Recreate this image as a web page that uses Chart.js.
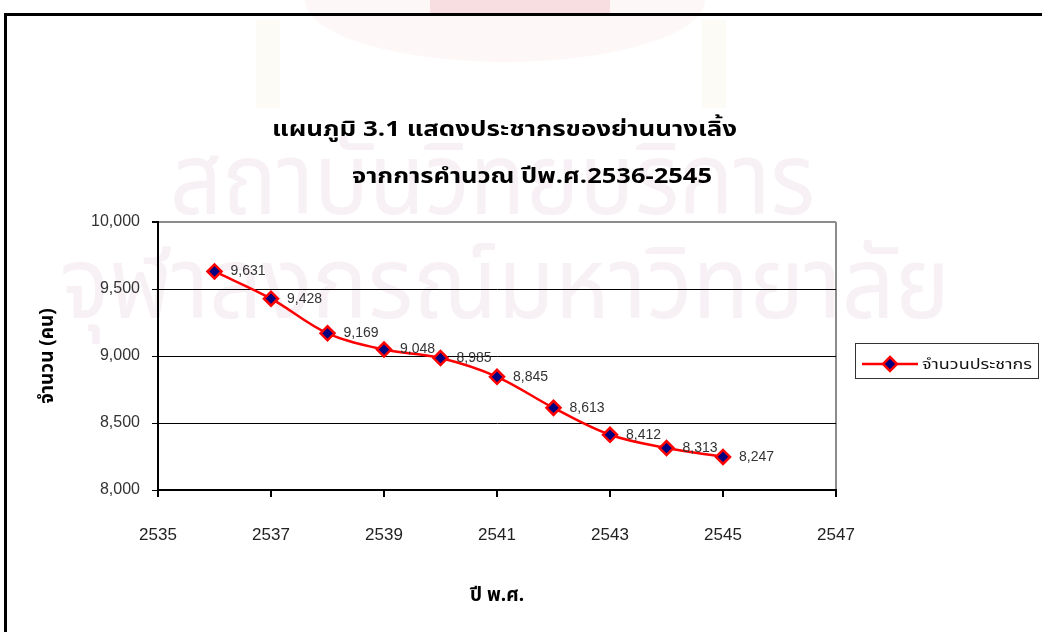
<!DOCTYPE html>
<html>
<head>
<meta charset="utf-8">
<script src="https://cdn.jsdelivr.net/npm/chart.js@4/dist/chart.umd.min.js"></script>
<style>
  html, body { margin: 0; padding: 0; background: #fff; }
  #wrap { position: relative; width: 1042px; height: 632px; }
</style>
</head>
<body>
<div id="wrap"><canvas id="chartPop" width="1042" height="632"></canvas></div>
<script>
// data
var years = [2536, 2537, 2538, 2539, 2540, 2541, 2542, 2543, 2544, 2545];
var population = [9631, 9428, 9169, 9048, 8985, 8845, 8613, 8412, 8313, 8247];
var yTicks = [8000, 8500, 9000, 9500, 10000];
var xTicks = [2535, 2537, 2539, 2541, 2543, 2545, 2547];

var titleLines = ['แผนภูมิ 3.1 แสดงประชากรของย่านนางเลิ้ง', 'จากการคำนวณ ปีพ.ศ.2536-2545'];
var seriesName = 'จำนวนประชากร';
var thaiFont = '"Noto Sans Thai", "Noto Sans", Loma, Garuda, sans-serif';

var points = years.map(function (y, i) { return { x: y, y: population[i] }; });

// text fitted to a given width
function fitText(ctx, text, x, y, width, size, weight, align) {
    ctx.font = weight + ' ' + size + 'px ' + thaiFont;
    var w = ctx.measureText(text).width;
    ctx.save();
    ctx.translate(x, y);
    ctx.scale(width / w, 1);
    ctx.textAlign = align || 'left';
    ctx.fillText(text, 0, 0);
    ctx.restore();
}

var decor = {
    id: 'decor',
    beforeDraw: function (chart) {
        var ctx = chart.ctx;
        ctx.save();
        // pale emblem at top (scan background)
        ctx.fillStyle = '#fef7f8';
        ctx.beginPath();
        ctx.ellipse(505, 0, 200, 62, 0, 0, Math.PI);
        ctx.fill();
        ctx.fillStyle = '#f8dde1';
        ctx.fillRect(430, 0, 180, 13);
        ctx.fillStyle = '#fdfbf6';
        ctx.fillRect(256, 20, 24, 88);
        ctx.fillRect(702, 20, 24, 88);
        // watermark
        ctx.fillStyle = '#f7f0f4';
        ctx.textBaseline = 'alphabetic';
        fitText(ctx, 'สถาบันวิทยบริการ', 170, 214, 645, 100, 'normal');
        fitText(ctx, 'จุฬาลงกรณ์มหาวิทยาลัย', 60, 318, 890, 100, 'normal');
        ctx.restore();
    },
    afterDraw: function (chart) {
        var ctx = chart.ctx;
        ctx.save();
        // frame
        ctx.strokeStyle = '#000';
        ctx.lineWidth = 3;
        ctx.beginPath();
        ctx.moveTo(5.5, 632);
        ctx.lineTo(5.5, 14.5);
        ctx.lineTo(1042, 14.5);
        ctx.stroke();

        // title
        ctx.fillStyle = '#000';
        ctx.textBaseline = 'alphabetic';
        fitText(ctx, titleLines[0], 272, 136, 465, 22, 'bold');
        fitText(ctx, titleLines[1], 352, 183, 360, 22, 'bold');

        // value labels
        var meta = chart.getDatasetMeta(0);
        ctx.fillStyle = '#333';
        ctx.font = '14px "Liberation Sans", Arial, sans-serif';
        ctx.textAlign = 'left';
        ctx.textBaseline = 'middle';
        meta.data.forEach(function (pt, i) {
            ctx.fillText(population[i].toLocaleString('en-US'), pt.x + 16, pt.y);
        });

        // legend
        ctx.strokeStyle = '#333';
        ctx.lineWidth = 1;
        ctx.strokeRect(855.5, 343.5, 183, 35);
        ctx.strokeStyle = '#ff0000';
        ctx.lineWidth = 2.5;
        ctx.beginPath();
        ctx.moveTo(862, 364);
        ctx.lineTo(918, 364);
        ctx.stroke();
        ctx.beginPath();
        ctx.moveTo(890, 357);
        ctx.lineTo(897, 364);
        ctx.lineTo(890, 371);
        ctx.lineTo(883, 364);
        ctx.closePath();
        ctx.fillStyle = '#000080';
        ctx.fill();
        ctx.stroke();
        ctx.fillStyle = '#111';
        ctx.textBaseline = 'alphabetic';
        fitText(ctx, seriesName, 922, 369, 110, 14, 'normal');
        ctx.restore();
    }
};

var ctx = document.getElementById('chartPop');
new Chart(ctx, {
    type: 'line',
    data: {
        datasets: [{
            label: seriesName,
            data: points,
            borderColor: '#ff0000',
            borderWidth: 2.5,
            tension: 0.35,
            pointStyle: 'rectRot',
            pointRadius: 7,
            pointBorderWidth: 2.5,
            pointBackgroundColor: '#000080',
            pointBorderColor: '#ff0000'
        }]
    },
    options: {
        responsive: false,
        animation: false,
        devicePixelRatio: 1,
        layout: { padding: { left: 20, right: 206, top: 222, bottom: 10 } },
        plugins: {
            legend: { display: false },
            tooltip: { enabled: false }
        },
        scales: {
            x: {
                type: 'linear',
                min: xTicks[0],
                max: xTicks[xTicks.length - 1],
                afterBuildTicks: function (scale) {
                    scale.ticks = xTicks.map(function (v) { return { value: v }; });
                },
                afterFit: function (scale) { scale.height = 632 - 490 - 10; },
                border: { color: '#000', width: 2 },
                grid: {
                    drawOnChartArea: true,
                    tickLength: 7,
                    tickColor: '#000',
                    lineWidth: 2,
                    color: function (c) {
                        return c.tick && c.tick.value === 2547 ? '#8c8c8c' : 'rgba(0,0,0,0)';
                    }
                },
                ticks: {
                    padding: 28,
                    color: '#222',
                    font: { family: '"Liberation Sans Narrow", "Liberation Sans", sans-serif', size: 17 },
                    callback: function (v) { return String(v); }
                },
                title: {
                    display: true,
                    text: 'ปี พ.ศ.',
                    color: '#000',
                    padding: { top: 0, bottom: 13 },
                    font: { family: thaiFont, size: 19, weight: 'bold' }
                }
            },
            y: {
                min: yTicks[0],
                max: yTicks[yTicks.length - 1],
                afterBuildTicks: function (scale) {
                    scale.ticks = yTicks.map(function (v) { return { value: v }; });
                },
                afterFit: function (scale) { scale.width = 158 - 20; },
                border: { color: '#000', width: 2 },
                grid: {
                    tickLength: 6,
                    tickColor: '#000',
                    lineWidth: function (c) { return c.tick && c.tick.value === 10000 ? 2 : 1; },
                    color: function (c) {
                        return c.tick && c.tick.value === 10000 ? '#8c8c8c' : '#000';
                    }
                },
                ticks: {
                    padding: 12,
                    color: '#333',
                    font: { family: '"Liberation Sans", Arial, sans-serif', size: 16 },
                    callback: function (v) { return v.toLocaleString('en-US'); }
                },
                title: {
                    display: true,
                    text: 'จำนวน (คน)',
                    color: '#000',
                    padding: { top: 18, bottom: 0 },
                    font: { family: thaiFont, size: 19, weight: 'bold' }
                }
            }
        }
    },
    plugins: [decor]
});
</script>
</body>
</html>
